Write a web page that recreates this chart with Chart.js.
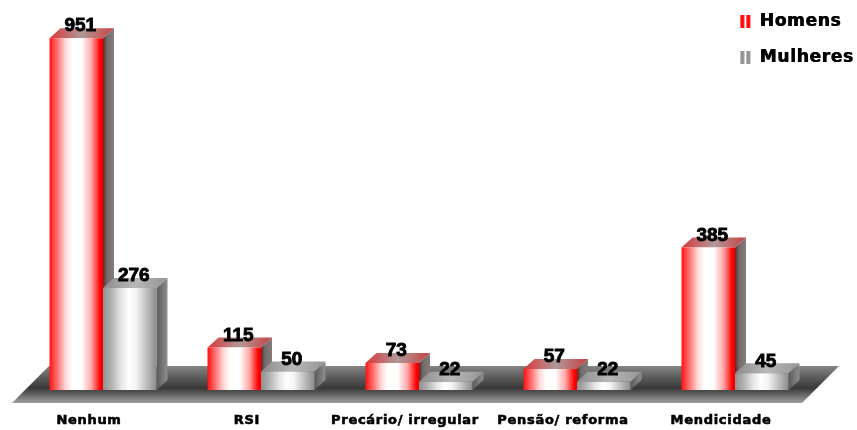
<!DOCTYPE html>
<html><head><meta charset="utf-8">
<style>html,body{margin:0;padding:0;background:#fff}canvas{display:block}</style>
<script src="https://cdn.jsdelivr.net/npm/chart.js@4"></script>
</head><body><canvas id="c" width="857" height="430"></canvas>
<script>
const categories = ['Nenhum','RSI','Precário/ irregular','Pensão/ reforma','Mendicidade'];
const homens = [951,115,73,57,385];
const mulheres = [276,50,22,22,45];
const seriesNames = ['Homens','Mulheres'];
const FONT = '"Liberation Sans", Arial, sans-serif';
const HEAVY = '"DejaVu Sans", sans-serif';
const CAT_PCT = 0.677, DX = 11, DY = 10;

function edge(c, stops, x0, x1){
  const g = c.createLinearGradient(x0,0,x1,0);
  stops.forEach(s=>g.addColorStop(s[0],s[1]));
  return g;
}
const redStops = [[0,'#ff1010'],[0.12,'#ff6060'],[0.3,'#ffd8d8'],[0.42,'#ffffff'],[0.6,'#ffffff'],[0.78,'#ffa8a8'],[0.95,'#ff0000'],[1,'#f00000']];
const grayStops = [[0,'#909090'],[0.15,'#b0b0b0'],[0.35,'#e8e8e8'],[0.48,'#ffffff'],[0.62,'#f4f4f4'],[0.85,'#b4b4b4'],[1,'#8c8c8c']];

function frontFill(ctx){
  const ch = ctx.chart, xs = ch.scales.x;
  if(!xs || !ch.chartArea || ctx.dataIndex===undefined) return ctx.datasetIndex===0?'#ff0000':'#aaaaaa';
  const cw = xs.width/categories.length, w = cw*CAT_PCT/2;
  const l = xs.getPixelForValue(ctx.dataIndex) - w + ctx.datasetIndex*w;
  return edge(ch.ctx, ctx.datasetIndex===0?redStops:grayStops, l, l+w);
}
function stripes(col){
  const cv = document.createElement('canvas'); cv.width=12; cv.height=13;
  const c = cv.getContext('2d');
  [1,7].forEach(x=>{
    const g = c.createLinearGradient(x,0,x+4,0);
    g.addColorStop(0,col+'66'); g.addColorStop(.5,col); g.addColorStop(1,col+'66');
    c.fillStyle=g; c.fillRect(x,0,4,13);
  });
  return cv;
}
const legendIcons = [stripes('#ff0000'), stripes('#909090')];

const scene = {
  id:'scene',
  afterLayout(ch){
    const lg = ch.legend, w = lg.width, h = lg.height;
    lg.left = 720; lg.right = 720+w; lg.top = -6; lg.bottom = -6+h;
  },
  beforeDraw(ch){ ch.ctx.letterSpacing = '0.7px'; },
  afterDraw(ch){
    const lg = ch.legend;
    lg.left += 0.7; lg.right += 0.7;
    lg.draw();
    lg.left -= 0.7; lg.right -= 0.7;
  },
  beforeDatasetsDraw(ch){
    const c = ch.ctx, a = ch.chartArea;
    c.save();
    c.letterSpacing='0px';
    const yb = a.bottom-24, yf = a.bottom+13;
    const g = c.createLinearGradient(0,yb,0,yf);
    g.addColorStop(0,'#858585'); g.addColorStop(.45,'#4a4a4a'); g.addColorStop(.6,'#383838'); g.addColorStop(1,'#a0a0a0');
    c.fillStyle=g;
    c.beginPath();
    c.moveTo(a.left-12,yf); c.lineTo(a.right-12,yf); c.lineTo(a.right+25,yb); c.lineTo(a.left+25,yb);
    c.closePath(); c.fill();
    [0,1].forEach(d=>{
      ch.getDatasetMeta(d).data.forEach(el=>{
        const l=el.x-el.width/2, r=el.x+el.width/2, t=el.y, b=el.base;
        const sg=c.createLinearGradient(r,0,r+DX,0);
        if(d===0){sg.addColorStop(0,'#6e2020');sg.addColorStop(.35,'#6c6c6c');sg.addColorStop(1,'#8a7a7a');}
        else{sg.addColorStop(0,'#5a5a5a');sg.addColorStop(1,'#8e8e8e');}
        c.fillStyle=sg;
        c.beginPath();c.moveTo(r,t);c.lineTo(r+DX,t-DY);c.lineTo(r+DX,b-DY);c.lineTo(r,b);c.closePath();c.fill();
        const tg=c.createLinearGradient(l,0,r+DX,0);
        if(d===0){tg.addColorStop(0,'#d83838');tg.addColorStop(.5,'#b09898');tg.addColorStop(1,'#c84040');}
        else{tg.addColorStop(0,'#8c8c8c');tg.addColorStop(.5,'#b8b8b8');tg.addColorStop(1,'#949494');}
        c.fillStyle=tg;
        c.beginPath();c.moveTo(l,t);c.lineTo(l+DX,t-DY);c.lineTo(r+DX,t-DY);c.lineTo(r,t);c.closePath();c.fill();
      });
    });
    c.restore();
  },
  afterDatasetsDraw(ch){
    const c = ch.ctx;
    c.save();
    c.letterSpacing='0px';
    c.font='bold 19px '+FONT; c.fillStyle='#000'; c.strokeStyle='#000'; c.lineWidth=0.9;
    c.textAlign='center'; c.textBaseline='middle';
    ch.data.datasets.forEach((ds,d)=>{
      ch.getDatasetMeta(d).data.forEach((el,i)=>{
        c.fillText(String(ds.data[i]), el.x+4, el.y-12);
        c.strokeText(String(ds.data[i]), el.x+4, el.y-12);
      });
    });
    c.restore();
  }
};

new Chart(document.getElementById('c'),{
  type:'bar',
  plugins:[scene],
  data:{labels:categories,datasets:[
    {label:seriesNames[0],data:homens,backgroundColor:frontFill,borderWidth:0},
    {label:seriesNames[1],data:mulheres,backgroundColor:frontFill,borderWidth:0}
  ]},
  options:{
    responsive:false,animation:false,
    layout:{padding:{left:24,right:43,top:20,bottom:0}},
    datasets:{bar:{categoryPercentage:CAT_PCT,barPercentage:1}},
    scales:{
      x:{grid:{display:false},border:{display:false},
         afterFit(s){s.height=40;},
         ticks:{color:'#000',font:{family:HEAVY,size:13,weight:'bold'},textStrokeColor:'#000',textStrokeWidth:0.6,padding:15,labelOffset:-14,autoSkip:false,maxRotation:0,minRotation:0}},
      y:{display:false,min:0,max:1000,grid:{display:false}}
    },
    plugins:{
      tooltip:{enabled:false},
      legend:{display:true,position:'chartArea',align:'start',
        labels:{color:'#000',font:{family:HEAVY,size:17,weight:'bold'},usePointStyle:true,boxWidth:12,boxHeight:12,padding:19,
          generateLabels:ch=>ch.data.datasets.map((ds,i)=>({text:ds.label,datasetIndex:i,pointStyle:legendIcons[i],fontColor:'#000',lineWidth:0,strokeStyle:'transparent',fillStyle:'transparent',hidden:false}))}
      }
    }
  }
});
</script></body></html>
